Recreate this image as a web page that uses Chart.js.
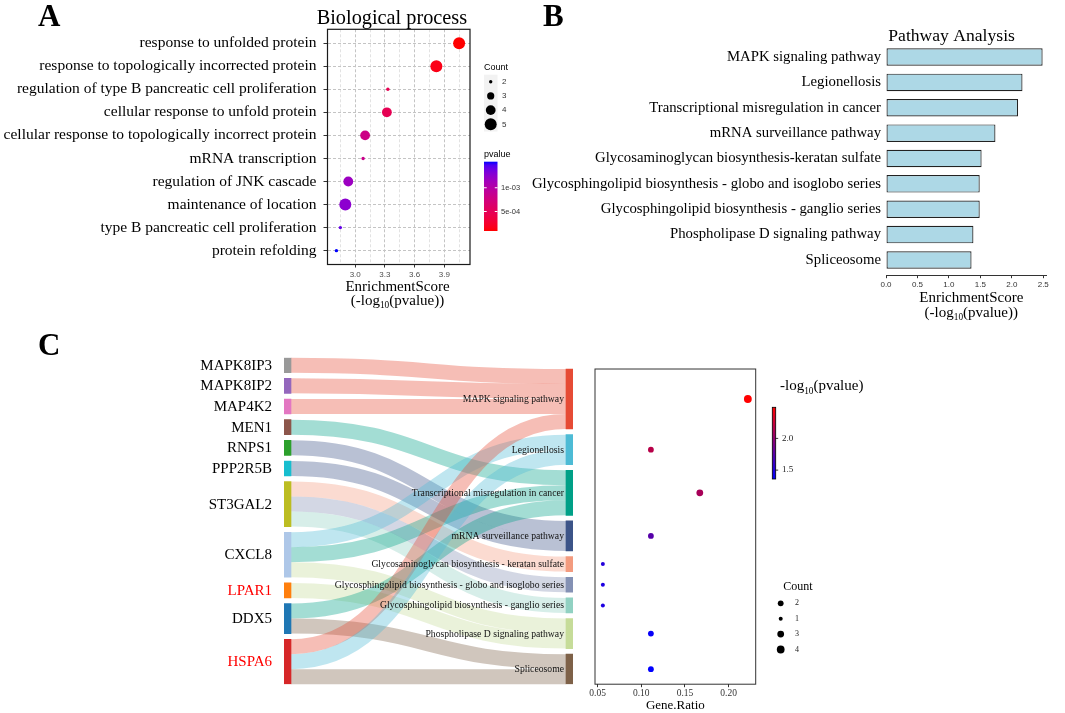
<!DOCTYPE html>
<html><head><meta charset="utf-8">
<script src="https://cdn.jsdelivr.net/npm/chart.js@4.4.1/dist/chart.umd.min.js"></script>
<style>
html,body{margin:0;padding:0;background:#fff;}
body{width:1065px;height:713px;position:relative;overflow:hidden;}
canvas{position:absolute;}
</style></head><body>
<canvas id="cA" width="540" height="320" style="left:0;top:0"></canvas>
<canvas id="cB" width="535" height="330" style="left:530px;top:0"></canvas>
<canvas id="cS" width="590" height="383" style="left:0;top:330px"></canvas>
<canvas id="cD" width="485" height="383" style="left:580px;top:330px"></canvas>
<script>
// ================= DATA =================
// Panel A : GO biological process
const bpTerms = ['response to unfolded protein','response to topologically incorrected protein','regulation of type B pancreatic cell proliferation','cellular response to unfold protein','cellular response to topologically incorrect protein','mRNA transcription','regulation of JNK cascade','maintenance of location','type B pancreatic cell proliferation','protein refolding'];
const bpScore = [4.05, 3.82, 3.33, 3.32, 3.10, 3.08, 2.93, 2.90, 2.85, 2.81];
const bpCount = [5, 5, 2, 4, 4, 2, 4, 5, 2, 2];
const bpCountBreaks = [2, 3, 4, 5];
const bpPTicks = [1e-3, 5e-4];
const bpPTickLabels = ['1e-03', '5e-04'];

// Panel B : pathway analysis
const kgTermsB = ['MAPK signaling pathway','Legionellosis','Transcriptional misregulation in cancer','mRNA surveillance pathway','Glycosaminoglycan biosynthesis-keratan sulfate','Glycosphingolipid biosynthesis - globo and isoglobo series','Glycosphingolipid biosynthesis - ganglio series','Phospholipase D signaling pathway','Spliceosome'];
const kgScore = [2.49, 2.17, 2.10, 1.74, 1.52, 1.49, 1.49, 1.39, 1.36];
const kgTicks = [0, 0.5, 1.0, 1.5, 2.0, 2.5];

// Panel C : sankey genes -> pathways, and bubble plot
const genes = ['MAPK8IP3','MAPK8IP2','MAP4K2','MEN1','RNPS1','PPP2R5B','ST3GAL2','CXCL8','LPAR1','DDX5','HSPA6'];
const geneColors = ['#999999','#9467bd','#e377c2','#8c564b','#2ca02c','#17becf','#bcbd22','#aec7e8','#ff7f0e','#1f77b4','#d62728'];
const geneLabelColors = ['#000','#000','#000','#000','#000','#000','#000','#000','#ff0000','#000','#ff0000'];
const pathways = ['MAPK signaling pathway','Legionellosis','Transcriptional misregulation in cancer','mRNA surveillance pathway','Glycosaminoglycan biosynthesis - keratan sulfate','Glycosphingolipid biosynthesis - globo and isoglobo series','Glycosphingolipid biosynthesis - ganglio series','Phospholipase D signaling pathway','Spliceosome'];
const pathwayColors = ['#E64B35','#4DBBD5','#00A087','#3C5488','#F39B7F','#8491B4','#91D1C2','#C6DC99','#7E6148'];
const linkSource = [0, 1, 2, 3, 4, 5, 6, 6, 6, 7, 7, 7, 8, 9, 9, 10, 10, 10];
const linkTarget = [0, 0, 0, 2, 3, 3, 4, 5, 6, 1, 2, 7, 7, 2, 8, 0, 1, 8];
const linkValue  = [1, 1, 1, 1, 1, 1, 1, 1, 1, 1, 1, 1, 1, 1, 1, 1, 1, 1];
const geneRatio = [0.222, 0.111, 0.167, 0.111, 0.056, 0.056, 0.056, 0.111, 0.111];
const pathCount = [4, 2, 3, 2, 1, 1, 1, 2, 2];
const pathLogP = kgScore;
const countLegendC = [2, 1, 3, 4];
const logPTicksC = [2.0, 1.5];
const ratioTicks = [0.05, 0.10, 0.15, 0.20];

// ================= HELPERS =================
const SERIF = '"Liberation Serif", "Times New Roman", serif';
const SANS = '"Liberation Sans", Arial, sans-serif';
Chart.defaults.font.family = SERIF;
Chart.defaults.color = '#000';

function hex2rgb(h){h=h.replace('#','');if(h.length===3)h=h.split('').map(c=>c+c).join('');return [parseInt(h.substr(0,2),16),parseInt(h.substr(2,2),16),parseInt(h.substr(4,2),16)];}
function rgba(h,a){const c=hex2rgb(h);return 'rgba('+c[0]+','+c[1]+','+c[2]+','+a+')';}
function lin(c){c/=255;return c<=0.04045?c/12.92:Math.pow((c+0.055)/1.055,2.4);}
function unlin(c){c=c<=0.0031308?12.92*c:1.055*Math.pow(c,1/2.4)-0.055;return Math.max(0,Math.min(255,Math.round(c*255)));}
function rgb2lab(rgb){const r=lin(rgb[0]),g=lin(rgb[1]),b=lin(rgb[2]);
  const X=(0.4124*r+0.3576*g+0.1805*b)/0.95047,Y=(0.2126*r+0.7152*g+0.0722*b),Z=(0.0193*r+0.1192*g+0.9505*b)/1.08883;
  const f=t=>t>0.008856?Math.cbrt(t):7.787*t+16/116;const fx=f(X),fy=f(Y),fz=f(Z);
  return [116*fy-16,500*(fx-fy),200*(fy-fz)];}
function lab2rgb(l){const fy=(l[0]+16)/116,fx=fy+l[1]/500,fz=fy-l[2]/200;
  const fi=t=>t*t*t>0.008856?t*t*t:(t-16/116)/7.787;
  const X=fi(fx)*0.95047,Y=fi(fy),Z=fi(fz)*1.08883;
  const r=3.2406*X-1.5372*Y-0.4986*Z,g=-0.9689*X+1.8758*Y+0.0415*Z,b=0.0557*X-0.2040*Y+1.0570*Z;
  return 'rgb('+unlin(r)+','+unlin(g)+','+unlin(b)+')';}
function labMix(c1,c2,t){t=Math.max(0,Math.min(1,t));const a=rgb2lab(c1),b=rgb2lab(c2);
  return lab2rgb([a[0]+(b[0]-a[0])*t,a[1]+(b[1]-a[1])*t,a[2]+(b[2]-a[2])*t]);}
function rgbMix(c1,c2,t){t=Math.max(0,Math.min(1,t));return 'rgb('+[0,1,2].map(i=>Math.round(c1[i]+(c2[i]-c1[i])*t)).join(',')+')';}
const RED=[255,0,0], BLUE=[0,0,255];

function logText(ctx,x,y,size,align,prefix,suffix){
  const big=size+'px '+SERIF, small=(size*0.62)+'px '+SERIF;
  ctx.font=big;const w1=ctx.measureText(prefix).width,w3=ctx.measureText(suffix).width;
  ctx.font=small;const w2=ctx.measureText('10').width;
  const total=w1+w2+w3;const sx=align==='center'?x-total/2:x;
  ctx.textAlign='left';ctx.textBaseline='alphabetic';ctx.fillStyle='#000';
  ctx.font=big;ctx.fillText(prefix,sx,y);
  ctx.font=small;ctx.fillText('10',sx+w1,y+size*0.25);
  ctx.font=big;ctx.fillText(suffix,sx+w1+w2,y);
}
function txt(ctx,s,x,y,font,color,align,base){ctx.font=font;ctx.fillStyle=color||'#000';ctx.textAlign=align||'left';ctx.textBaseline=base||'alphabetic';ctx.fillText(s,x,y);}
function vGradient(ctx,x,y,w,h,colorAt){const g=ctx.createLinearGradient(0,y+h,0,y);for(let i=0;i<=20;i++){g.addColorStop(i/20,colorAt(i/20));}ctx.fillStyle=g;ctx.fillRect(x,y,w,h);}

const baseOpts = {responsive:false, devicePixelRatio:1, animation:false, events:[], plugins:{legend:{display:false}, tooltip:{enabled:false}}};

// ================= PANEL A =================
const pVals = bpScore.map(s=>Math.pow(10,-s));
const pMin = Math.min(...pVals), pMax = Math.max(...pVals);
const colA = p => labMix(RED, BLUE, (p-pMin)/(pMax-pMin));
const rA = c => ({2:1.7,3:3.6,4:4.9,5:6.0})[c];
const isMajorA = v => Math.round(v*100)%30===0;

new Chart(document.getElementById('cA'), {
  type:'bubble',
  data:{datasets:[{data: bpScore.map((s,i)=>({x:s,y:i,r:rA(bpCount[i])})), backgroundColor: pVals.map(colA), borderWidth:0, hoverBorderWidth:0}]},
  options:Object.assign({}, baseOpts, {
    layout:{padding:{top:29.3,right:70,left:0,bottom:0}},
    scales:{
      x:{type:'linear',min:2.72,max:4.16,offset:false,
        afterFit:s=>{s.height=320-264.5;},
        ticks:{stepSize:0.15,includeBounds:false,autoSkip:false,maxRotation:0,padding:2,font:{family:SANS,size:8},color:'#4d4d4d',
          callback:v=>isMajorA(v)?v.toFixed(1):''},
        grid:{color:c=>(c.tick&&isMajorA(c.tick.value))?'#c4c4c4':'#e2e2e2',lineWidth:1,tickLength:3,
          tickColor:c=>(c.tick&&isMajorA(c.tick.value))?'#333':'rgba(0,0,0,0)'},
        border:{display:false,dash:[3,2]}},
      y:{type:'linear',reverse:true,min:-0.6,max:9.6,offset:false,
        afterFit:s=>{s.width=327.5;},
        ticks:{stepSize:1,includeBounds:false,autoSkip:false,padding:7,font:{family:SERIF,size:15.5},color:'#000',
          callback:v=>bpTerms[v]!==undefined?bpTerms[v]:''},
        grid:{color:'#c4c4c4',lineWidth:1,tickLength:4,tickColor:'#333'},
        border:{display:false,dash:[3,2]}}
    }
  }),
  plugins:[{id:'decoA', afterDraw(chart){
    const ctx=chart.ctx, ca=chart.chartArea;
    ctx.save();
    ctx.strokeStyle='#1a1a1a';ctx.lineWidth=1.2;ctx.strokeRect(ca.left,ca.top,ca.right-ca.left,ca.bottom-ca.top);
    txt(ctx,'A',38,26,'bold 31px '+SERIF,'#000');
    txt(ctx,'Biological process',316.7,24,'20.3px '+SERIF,'#000');
    txt(ctx,'EnrichmentScore',397.5,291,'15px '+SERIF,'#000','center');
    logText(ctx,397.5,304.5,15,'center','(-log','(pvalue))');
    // Count legend
    txt(ctx,'Count',484,70,'9px '+SANS,'#000');
    ctx.fillStyle='#f2f2f2';ctx.fillRect(484,74.7,13.5,56.8);
    bpCountBreaks.forEach((c,i)=>{const cy=81.7+i*14.2;ctx.fillStyle='#000';ctx.beginPath();ctx.arc(490.7,cy,rA(c),0,Math.PI*2);ctx.fill();
      txt(ctx,String(c),502,cy,'8px '+SANS,'#333','left','middle');});
    // pvalue colorbar
    txt(ctx,'pvalue',484,157,'9px '+SANS,'#000');
    const bx=484,by=161.7,bw=13.5,bh=69.3;
    vGradient(ctx,bx,by,bw,bh,t=>colA(pMin+t*(pMax-pMin)));
    bpPTicks.forEach((p,i)=>{const y=by+bh-(p-pMin)/(pMax-pMin)*bh;ctx.strokeStyle='#fff';ctx.lineWidth=1;
      ctx.beginPath();ctx.moveTo(bx,y);ctx.lineTo(bx+2.7,y);ctx.moveTo(bx+bw-2.7,y);ctx.lineTo(bx+bw,y);ctx.stroke();
      txt(ctx,bpPTickLabels[i],501,y,'7.5px '+SANS,'#333','left','middle');});
    ctx.restore();
  }}]
});

// ================= PANEL B =================
new Chart(document.getElementById('cB'), {
  type:'bar',
  data:{datasets:[{data: kgScore.map((v,i)=>({x:v,y:i})), backgroundColor:'#ADD8E6', borderColor:'#222', borderWidth:1.2, borderSkipped:false, barPercentage:0.69, categoryPercentage:1}]},
  options:Object.assign({}, baseOpts, {
    indexAxis:'y',
    layout:{padding:{top:41.8,right:18.6,left:0,bottom:0}},
    scales:{
      x:{type:'linear',min:0,max:2.55,offset:false,
        afterFit:s=>{s.height=330-275.2;},
        ticks:{stepSize:0.5,includeBounds:false,autoSkip:false,maxRotation:0,padding:2,font:{family:SANS,size:8},color:'#333',
          callback:v=>kgTicks.some(t=>Math.abs(t-v)<1e-6)?v.toFixed(1):''},
        grid:{drawOnChartArea:false,tickLength:3,tickColor:'#333'},
        border:{display:true,color:'#333',width:1}},
      y:{type:'linear',reverse:true,min:-0.6,max:8.6,offset:false,
        afterFit:s=>{s.width=356;},
        ticks:{stepSize:1,includeBounds:false,autoSkip:false,padding:5,font:{family:SERIF,size:14.75},color:'#000',
          callback:v=>kgTermsB[v]!==undefined?kgTermsB[v]:''},
        grid:{display:false,drawTicks:false},
        border:{display:false}}
    }
  }),
  plugins:[{id:'decoB', afterDraw(chart){
    const ctx=chart.ctx;ctx.save();
    txt(ctx,'B',13,26,'bold 31px '+SERIF,'#000');
    txt(ctx,'Pathway Analysis',358.3,40.7,'17.6px '+SERIF,'#000');
    txt(ctx,'EnrichmentScore',441.3,302.3,'15px '+SERIF,'#000','center');
    logText(ctx,441.3,316.5,15,'center','(-log','(pvalue))');
    ctx.restore();
  }}]
});

// ================= PANEL C : SANKEY =================
const nodeGap = 0.377;           // gap between nodes, in link units
const nodeWidth = 14;            // px
const leftVal = genes.map((g,i)=>linkValue.reduce((s,v,k)=>s+(linkSource[k]===i?v:0),0));
const rightVal = pathways.map((p,j)=>linkValue.reduce((s,v,k)=>s+(linkTarget[k]===j?v:0),0));
const leftY0=[];let yy=0;leftVal.forEach((v,i)=>{leftY0.push(yy);yy+=v+nodeGap;});
const leftTotal = yy-nodeGap;
const rightTotal = rightVal.reduce((a,b)=>a+b,0)+(pathways.length-1)*nodeGap;
const rightY0=[];yy=leftTotal-rightTotal;rightVal.forEach((v,j)=>{rightY0.push(yy);yy+=v+nodeGap;});
const rightCenter = rightY0.map((y0,j)=>y0+rightVal[j]/2);
// link stacking
const linkSy=[],linkTy=[];
{const idx=linkValue.map((v,k)=>k);
 const offS=leftY0.slice(), offT=rightY0.slice();
 idx.slice().sort((a,b)=>linkSource[a]-linkSource[b]||linkTarget[a]-linkTarget[b]).forEach(k=>{linkSy[k]=offS[linkSource[k]];offS[linkSource[k]]+=linkValue[k];});
 idx.slice().sort((a,b)=>linkTarget[a]-linkTarget[b]||linkSource[a]-linkSource[b]).forEach(k=>{linkTy[k]=offT[linkTarget[k]];offT[linkTarget[k]]+=linkValue[k];});
}
const nodeData=[...genes.map((g,i)=>({x:0,y:[leftY0[i],leftY0[i]+leftVal[i]]})), ...pathways.map((p,j)=>({x:1,y:[rightY0[j],rightY0[j]+rightVal[j]]}))];

new Chart(document.getElementById('cS'), {
  type:'bar',
  data:{datasets:[{data:nodeData, backgroundColor:[...geneColors,...pathwayColors], borderWidth:0, barThickness:nodeWidth}]},
  options:Object.assign({}, baseOpts, {
    layout:{padding:{top:27.7,right:17,left:284,bottom:28.8}},
    scales:{
      x:{type:'linear',min:0,max:1,offset:false,display:false},
      y:{type:'linear',reverse:true,min:0,max:leftTotal,offset:false,display:false}
    }
  }),
  plugins:[{id:'ribbons', beforeDatasetsDraw(chart){
    const ctx=chart.ctx, xs=chart.scales.x, ys=chart.scales.y;
    const x0=xs.getPixelForValue(0)+nodeWidth/2, x1=xs.getPixelForValue(1)-nodeWidth/2, xm=(x0+x1)/2;
    ctx.save();ctx.lineCap='butt';
    linkValue.forEach((v,k)=>{
      const a=ys.getPixelForValue(linkSy[k]+v/2), b=ys.getPixelForValue(linkTy[k]+v/2);
      const w=Math.abs(ys.getPixelForValue(v)-ys.getPixelForValue(0));
      ctx.strokeStyle=rgba(pathwayColors[linkTarget[k]],0.36);ctx.lineWidth=w;
      ctx.beginPath();ctx.moveTo(x0,a);ctx.bezierCurveTo(xm,a,xm,b,x1,b);ctx.stroke();
    });
    ctx.restore();
  }, afterDatasetsDraw(chart){
    const ctx=chart.ctx, xs=chart.scales.x, ys=chart.scales.y;ctx.save();
    const gx=xs.getPixelForValue(0)-nodeWidth/2-5;
    genes.forEach((g,i)=>txt(ctx,g,gx,ys.getPixelForValue(leftY0[i]+leftVal[i]/2)+0.5,'15px '+SERIF,geneLabelColors[i],'right','middle'));
    const px=xs.getPixelForValue(1)-nodeWidth/2-2;
    pathways.forEach((p,j)=>txt(ctx,p,px,ys.getPixelForValue(rightCenter[j])+0.5,'9.7px '+SERIF,'#111','right','middle'));
    txt(ctx,'C',38,25,'bold 31px '+SERIF,'#000');
    ctx.restore();
  }}]
});

// ================= PANEL C : BUBBLE =================
const vMin=Math.min(...pathLogP), vMax=Math.max(...pathLogP);
const colC = v => rgbMix(BLUE, RED, (v-vMin)/(vMax-vMin));
const rC = c => ({1:2.0,2:2.9,3:3.4,4:3.9})[c];

new Chart(document.getElementById('cD'), {
  type:'bubble',
  data:{datasets:[{data: pathways.map((p,j)=>({x:geneRatio[j],y:rightCenter[j],r:rC(pathCount[j])})), backgroundColor: pathLogP.map(colC), borderWidth:0, hoverBorderWidth:0}]},
  options:Object.assign({}, baseOpts, {
    layout:{padding:{top:27.7+(leftTotal-rightTotal)*(326.5/leftTotal),right:309.3,left:15,bottom:0}},
    scales:{
      x:{type:'linear',min:0.047,max:0.231,offset:false,
        afterFit:s=>{s.height=28.8;},
        ticks:{stepSize:0.05,includeBounds:false,autoSkip:false,maxRotation:0,padding:1,font:{family:SERIF,size:9.5},color:'#333',
          callback:v=>ratioTicks.some(t=>Math.abs(t-v)<1e-6)?v.toFixed(2):''},
        grid:{drawOnChartArea:false,tickLength:3,tickColor:'#333'},
        border:{display:false}},
      y:{type:'linear',reverse:true,min:leftTotal-rightTotal,max:leftTotal,offset:false,display:false}
    }
  }),
  plugins:[{id:'decoC', afterDraw(chart){
    const ctx=chart.ctx, ca=chart.chartArea;ctx.save();
    ctx.strokeStyle='#333';ctx.lineWidth=1;ctx.strokeRect(ca.left,ca.top,ca.right-ca.left,ca.bottom-ca.top);
    txt(ctx,'Gene.Ratio',(ca.left+ca.right)/2,379,'13px '+SERIF,'#000','center');
    logText(ctx,200,60,15,'left','-log','(pvalue)');
    const bx=192.3,by=77.3,bw=3.4,bh=71.7;
    vGradient(ctx,bx,by,bw,bh,t=>colC(vMin+t*(vMax-vMin)));
    ctx.strokeStyle='#000';ctx.lineWidth=0.8;ctx.strokeRect(bx,by,bw,bh);
    logPTicksC.forEach(v=>{const y=by+bh-(v-vMin)/(vMax-vMin)*bh;ctx.beginPath();ctx.moveTo(bx+bw,y);ctx.lineTo(bx+bw+2.5,y);ctx.stroke();
      txt(ctx,v.toFixed(1),202,y,'9px '+SERIF,'#222','left','middle');});
    txt(ctx,'Count',203.3,260,'12px '+SERIF,'#000');
    countLegendC.forEach((c,i)=>{const cy=273.3+i*15.4;ctx.fillStyle='#000';ctx.beginPath();ctx.arc(200.7,cy,rC(c),0,Math.PI*2);ctx.fill();
      txt(ctx,String(c),215,cy,'8px '+SERIF,'#222','left','middle');});
    ctx.restore();
  }}]
});
</script>
</body></html>
